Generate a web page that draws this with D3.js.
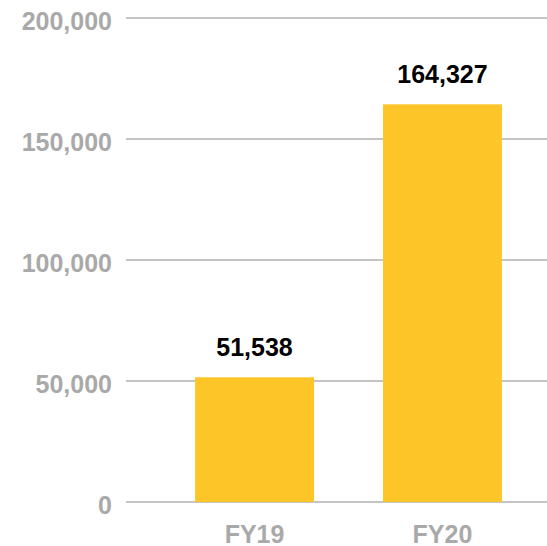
<!DOCTYPE html>
<html>
<head>
<meta charset="utf-8">
<script src="https://cdn.jsdelivr.net/npm/d3@7"></script>
<style>
  body { margin: 0; background: #fff; }
  text { font-family: "Liberation Sans", Arial, sans-serif; font-weight: bold; }
</style>
</head>
<body>
<div id="chart"></div>
<script>
const categories = ["FY19", "FY20"];
const values = [51538, 164327];
const yTicks = [0, 50000, 100000, 150000, 200000];

const width = 547, height = 546;

const svg = d3.select("#chart").append("svg")
  .attr("width", width)
  .attr("height", height);

const y = d3.scaleLinear().domain([0, 200000]).range([502, 18]);
const x = d3.scaleBand().domain(categories).range([150, 547])
  .paddingInner(0.367).paddingOuter(0.24);

// gridlines
svg.append("g").selectAll("line")
  .data(yTicks)
  .enter().append("line")
    .attr("x1", 126).attr("x2", width)
    .attr("y1", d => y(d)).attr("y2", d => y(d))
    .attr("stroke", "#c4c4c4")
    .attr("stroke-width", 2);

// y labels
svg.append("g").selectAll("text")
  .data(yTicks)
  .enter().append("text")
    .attr("x", 112)
    .attr("y", d => y(d) + 12)
    .attr("text-anchor", "end")
    .style("font-size", "25px")
    .style("fill", "#a9a9a9")
    .text(d => d3.format(",")(d));

// bars
svg.append("g").selectAll("rect")
  .data(values)
  .enter().append("rect")
    .attr("x", (d, i) => x(categories[i]))
    .attr("width", x.bandwidth())
    .attr("y", d => y(d))
    .attr("height", d => y(0) - y(d))
    .attr("fill", "#fdc528");

// value labels
svg.append("g").selectAll("text")
  .data(values)
  .enter().append("text")
    .attr("x", (d, i) => x(categories[i]) + x.bandwidth() / 2)
    .attr("y", d => y(d) - 21)
    .attr("text-anchor", "middle")
    .style("font-size", "25px")
    .style("fill", "#000")
    .text(d => d3.format(",")(d));

// x labels
svg.append("g").selectAll("text")
  .data(categories)
  .enter().append("text")
    .attr("x", d => x(d) + x.bandwidth() / 2)
    .attr("y", 543)
    .attr("text-anchor", "middle")
    .style("font-size", "25px")
    .style("fill", "#a9a9a9")
    .text(d => d);
</script>
</body>
</html>
